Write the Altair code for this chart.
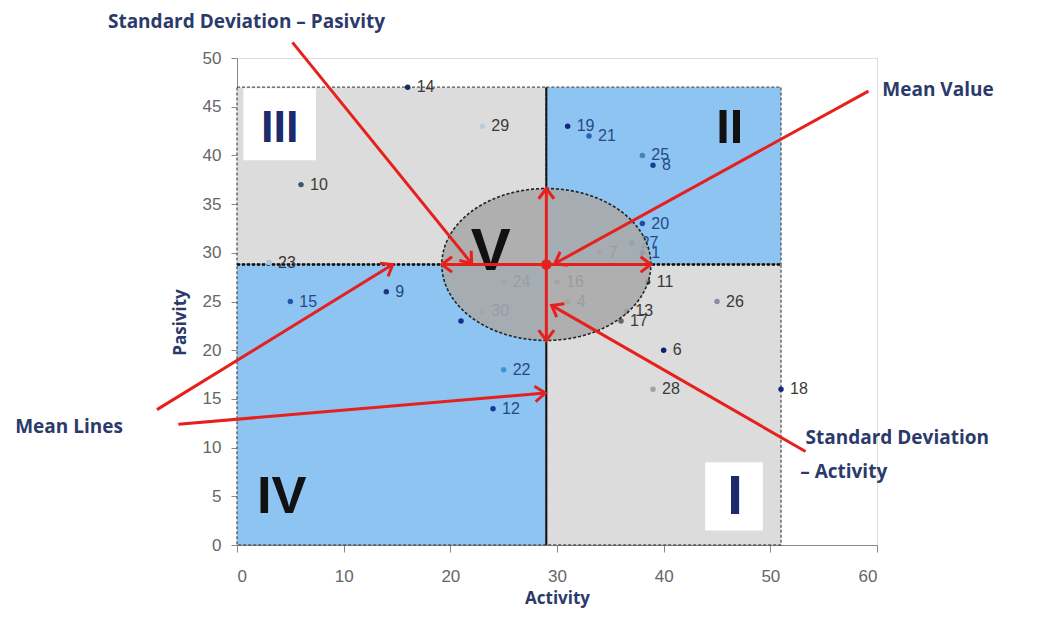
import altair as alt
import numpy as np
import pandas as pd

# ---------------- data ----------------
point_ids = ["14", "29", "10", "23", "19", "21", "25", "8", "20", "27", "1", "7",
             "11", "13", "17", "26", "6", "28", "18", "15", "9", "22", "12", "2",
             "24", "16", "4", "30"]
point_labels = ["14", "29", "10", "23", "19", "21", "25", "8", "20", "27", "1", "7",
                "11", "13", "17", "26", "6", "28", "18", "15", "9", "22", "12", "",
                "24", "16", "4", "30"]
activity = [16, 23, 6, 3, 31, 33, 38, 39, 38, 37, 38, 34,
            38.5, 36.5, 36, 45, 40, 39, 51, 5, 14, 25, 24, 21,
            25, 30, 31, 23]
pasivity = [47, 43, 37, 29, 43, 42, 40, 39, 33, 31, 30, 30,
            27, 24, 23, 25, 20, 16, 16, 25, 26, 18, 14, 23,
            27, 27, 25, 24]

mean_activity = 29.0
mean_pasivity = 28.8
sd_activity = 9.8
sd_pasivity = 7.8
zone_right = 51.0
zone_top = 47.0

quad_names = ["III", "II", "IV", "I"]
quad_kind = ["gray", "blue", "blue", "gray"]

zone_labels = ["III", "II", "IV", "I", "V"]
zone_label_x = [4.0, 46.2, 4.2, 46.7, 23.8]
zone_label_y = [42.8, 42.8, 4.9, 4.9, 30.1]

box_x = [0.6, 43.9]
box_x2 = [7.4, 49.3]
box_y = [39.5, 1.5]
box_y2 = [46.9, 8.5]

ann_text = ["Standard Deviation \u2013 Pasivity", "Mean Value", "Mean Lines",
            "Standard Deviation", "\u2013 Activity"]
ann_x = [-12.1, 60.5, -20.8, 53.3, 52.8]
ann_y = [53.7, 46.7, 12.1, 11.0, 7.5]

arrow_x1 = [5.2, 59.2, -7.5, -5.5, 53.3]
arrow_y1 = [51.6, 46.6, 13.9, 12.4, 9.6]
arrow_x2 = [22.0, 29.8, 14.6, 28.9, 29.5]
arrow_y2 = [28.9, 28.9, 28.8, 15.6, 24.6]

x_ticks = [0, 10, 20, 30, 40, 50, 60]
y_ticks = [0, 5, 10, 15, 20, 25, 30, 35, 40, 45, 50]

# ---------------- layout ----------------
W, H = 640, 487
kx = W / 60.0
ky = H / 50.0

point_colors = ["#1b2a5e", "#b8cde0", "#3a5670", "#a9c6dc", "#13287a", "#2662b8",
                "#4a7fb8", "#1d3f91", "#1c4fa3", "#2a6bb8", "#1c4fa3", "#7a8aa0",
                "#333333", "#666666", "#666666", "#8a8aa6", "#101f70", "#a0a0a8",
                "#102c8a", "#2356a8", "#1f3580", "#3b97d3", "#1a34a0", "#14308c",
                "#888888", "#888888", "#888888", "#888888"]

xs = alt.Scale(domain=[0, 60], nice=False, zero=False)
ys = alt.Scale(domain=[0, 50], nice=False, zero=False)
navy = "#2b3a6b"
xaxis = alt.Axis(values=x_ticks, title="Activity", grid=False, tickSize=7,
                 labelPadding=16, labelFontSize=17, labelFont="Liberation Sans",
                 labelColor="#666666", domainColor="#888888", tickColor="#888888",
                 titleFont="Open Sans", titleFontSize=17, titleFontWeight="bold",
                 titleColor=navy, titlePadding=6)
yaxis = alt.Axis(values=y_ticks, title="Pasivity", grid=False, tickSize=6,
                 labelPadding=10, labelFontSize=17, labelFont="Liberation Sans",
                 labelColor="#666666", domainColor="#888888", tickColor="#888888",
                 titleFont="Open Sans", titleFontSize=17, titleFontWeight="bold",
                 titleColor=navy, titleAngle=270, titleX=-57, titleY=264,
                 titleAlign="center", titleBaseline="middle")


def X(f):
    return alt.X(f, type="quantitative", scale=xs, axis=xaxis)


def Y(f):
    return alt.Y(f, type="quantitative", scale=ys, axis=yaxis)


# quadrants
qdf = pd.DataFrame({
    "name": quad_names, "kind": quad_kind,
    "x": [0, mean_activity, 0, mean_activity],
    "x2": [mean_activity, zone_right, mean_activity, zone_right],
    "y": [mean_pasivity, mean_pasivity, 0, 0],
    "y2": [zone_top, zone_top, mean_pasivity, mean_pasivity],
})
quads = alt.Chart(qdf).mark_rect(stroke="#555555", strokeDash=[3, 2], strokeWidth=1.3).encode(
    x=X("x"), x2="x2", y=Y("y"), y2="y2",
    fill=alt.condition("datum.kind == 'blue'", alt.value("#8ec4f2"), alt.value("#dcdcdc")),
)

boxes = alt.Chart(pd.DataFrame({"x": box_x, "x2": box_x2, "y": box_y, "y2": box_y2})).mark_rect(
    color="white").encode(x=X("x"), x2="x2", y=Y("y"), y2="y2")

# mean lines
hline = alt.Chart(pd.DataFrame({"x": [0], "x2": [zone_right], "y": [mean_pasivity]})).mark_rule(
    color="#111111", strokeWidth=2.5, strokeDash=[3, 2]).encode(x=X("x"), x2="x2", y=Y("y"))
vline = alt.Chart(pd.DataFrame({"x": [mean_activity], "y": [0], "y2": [zone_top]})).mark_rule(
    color="#111111", strokeWidth=2).encode(x=X("x"), y=Y("y"), y2="y2")

# points
pdf = pd.DataFrame({"id": point_ids, "label": point_labels, "a": activity, "p": pasivity})
pdf["blueq"] = [(a > mean_activity) == (p > mean_pasivity) for a, p in zip(activity, pasivity)]
pts = alt.Chart(pdf).mark_circle(size=30, opacity=1).encode(
    x=X("a"), y=Y("p"),
    color=alt.Color("id:N", scale=alt.Scale(domain=point_ids, range=point_colors), legend=None),
)
lbls = alt.Chart(pdf).mark_text(align="left", baseline="middle", dx=9, fontSize=16,
                                font="Liberation Sans").encode(
    x=X("a"), y=Y("p"), text="label:N",
    color=alt.condition("datum.blueq", alt.value("#234a86"), alt.value("#3a3a3a")),
)

# ellipse (mean +/- one standard deviation)
ex = np.linspace(mean_activity - sd_activity, mean_activity + sd_activity, 241)
half = sd_pasivity * np.sqrt(np.clip(1 - ((ex - mean_activity) / sd_activity) ** 2, 0, 1))
edf = pd.DataFrame({"x": ex, "lo": mean_pasivity - half, "hi": mean_pasivity + half})
ell_fill = alt.Chart(edf).mark_area(color="#a8a8a8", opacity=0.88).encode(
    x=X("x"), y=Y("lo"), y2="hi")
t = np.linspace(0, 2 * np.pi, 241)
odf = pd.DataFrame({"k": np.arange(len(t)),
                    "x": mean_activity + sd_activity * np.cos(t),
                    "y": mean_pasivity + sd_pasivity * np.sin(t)})
ell_line = alt.Chart(odf).mark_line(color="#222222", strokeWidth=1.6, strokeDash=[3, 2]).encode(
    x=X("x"), y=Y("y"), order="k:Q")

# zone labels
zdf = pd.DataFrame({"t": zone_labels, "x": zone_label_x, "y": zone_label_y})
zone_txt = alt.Chart(zdf).mark_text(font="Liberation Sans", fontWeight="bold",
                                    align="center", baseline="middle").encode(
    x=X("x"), y=Y("y"), text="t:N",
    size=alt.Size("t:N", scale=alt.Scale(domain=zone_labels, range=[45, 60, 52, 46, 60]),
                  legend=None),
    color=alt.Color("t:N", scale=alt.Scale(domain=zone_labels,
                                           range=["#1c2a6e", "#111111", "#111111", "#1c2a6e", "#111111"]),
                    legend=None),
)

# red arrows
rx1 = arrow_x1 + [mean_activity - sd_activity, mean_activity]
ry1 = arrow_y1 + [mean_pasivity, mean_pasivity - sd_pasivity]
rx2 = arrow_x2 + [mean_activity + sd_activity, mean_activity]
ry2 = arrow_y2 + [mean_pasivity, mean_pasivity + sd_pasivity]
rdf = pd.DataFrame({"x": rx1, "y": ry1, "x2": rx2, "y2": ry2})
red = "#e6201c"
arrows = alt.Chart(rdf).mark_rule(color=red, strokeWidth=3).encode(
    x=X("x"), y=Y("y"), x2="x2", y2="y2")

hx, hy, hang = [], [], []
for i in range(len(rx1)):
    dx = (rx2[i] - rx1[i]) * kx
    dy = -(ry2[i] - ry1[i]) * ky
    ang = np.degrees(np.arctan2(dy, dx)) % 360
    hx.append(rx2[i]); hy.append(ry2[i]); hang.append(ang)
    if i >= len(arrow_x1):  # double-headed arrows inside the ellipse
        hx.append(rx1[i]); hy.append(ry1[i]); hang.append((ang + 180) % 360)
hdf = pd.DataFrame({"x": hx, "y": hy, "ang": hang})
heads = alt.Chart(hdf).mark_point(shape="M -1 -0.75 L 0 0 L -1 0.75", filled=False,
                                  color=red, strokeWidth=3, size=420, opacity=1).encode(
    x=X("x"), y=Y("y"), angle=alt.Angle("ang:Q", scale=None))

center = alt.Chart(pd.DataFrame({"x": [mean_activity], "y": [mean_pasivity]})).mark_circle(
    color=red, size=110, opacity=1).encode(x=X("x"), y=Y("y"))

# annotations
adf = pd.DataFrame({"t": ann_text, "x": ann_x, "y": ann_y})
ann = alt.Chart(adf).mark_text(align="left", baseline="middle", font="Open Sans",
                               fontWeight="bold", fontSize=19, color=navy).encode(
    x=X("x"), y=Y("y"), text="t:N")

chart = alt.layer(quads, boxes, hline, vline, pts, lbls, ell_fill, ell_line, zone_txt,
                  arrows, heads, center, ann).resolve_scale(
    color="independent", size="independent"
).properties(
    width=W, height=H,
    autosize=alt.AutoSizeParams(type="none"),
    padding={"left": 229, "top": 50, "right": 174, "bottom": 68},
).configure_view(stroke=None).configure(background="white")

chart.save("out.html", embed_options={"renderer": "svg", "actions": False})
